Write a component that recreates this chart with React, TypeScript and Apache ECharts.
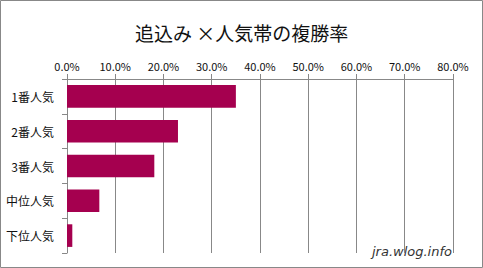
import React, { useEffect, useRef } from "react";
import * as echarts from "echarts";

const categories = ["1番人気", "2番人気", "3番人気", "中位人気", "下位人気"];
const placeRate = [0.35, 0.23, 0.181, 0.067, 0.011];
const titleText = "追込み ×人気帯の複勝率";
const watermark = "jra.wlog.info";

export default function App() {
  const ref = useRef<HTMLDivElement>(null);
  useEffect(() => {
    document.body.style.margin = "0";
    const chart = echarts.init(ref.current!, null, { renderer: "svg" });
    chart.setOption({
      animation: false,
      backgroundColor: "#fff",
      title: {
        text: titleText,
        left: "center",
        top: 18,
        textStyle: {
          fontFamily: "Noto Sans CJK JP",
          fontSize: 19,
          fontWeight: "normal",
          color: "#111",
        },
      },
      grid: { left: 67, right: 30, top: 79, height: 174, containLabel: false },
      xAxis: {
        type: "value",
        position: "top",
        min: 0,
        max: 0.8,
        interval: 0.1,
        axisLine: { show: true, lineStyle: { color: "#888" } },
        axisTick: { show: true, length: 5, lineStyle: { color: "#888" } },
        splitLine: { show: true, lineStyle: { color: "#888", width: 1 } },
        axisLabel: {
          formatter: (v: number) => (v * 100).toFixed(1) + "%",
          fontFamily: "Noto Sans CJK JP",
          fontSize: 11,
          color: "#111",
          margin: 8,
        },
      },
      yAxis: {
        type: "category",
        inverse: true,
        data: categories,
        axisLine: { show: true, lineStyle: { color: "#888" } },
        axisTick: { show: true, length: 5, lineStyle: { color: "#888" } },
        axisLabel: {
          fontFamily: "Noto Sans CJK JP",
          fontSize: 12,
          color: "#111",
          margin: 13,
        },
      },
      series: [
        {
          type: "bar",
          data: placeRate,
          barCategoryGap: "35%",
          itemStyle: { color: "#A5004F" },
        },
      ],
      graphic: [
        {
          type: "rect",
          shape: { x: 0.5, y: 0.5, width: 482, height: 267 },
          style: { fill: "none", stroke: "#888", lineWidth: 1 },
          silent: true,
        },
        {
          type: "text",
          right: 31,
          top: 245,
          style: {
            text: watermark,
            fontFamily: "DejaVu Sans",
            fontStyle: "italic",
            fontSize: 13,
            fill: "#333",
          },
        },
      ],
    });
    return () => chart.dispose();
  }, []);
  return (
    <div
      ref={ref}
      style={{ position: "absolute", left: 0, top: 0, width: 483, height: 268 }}
    />
  );
}
